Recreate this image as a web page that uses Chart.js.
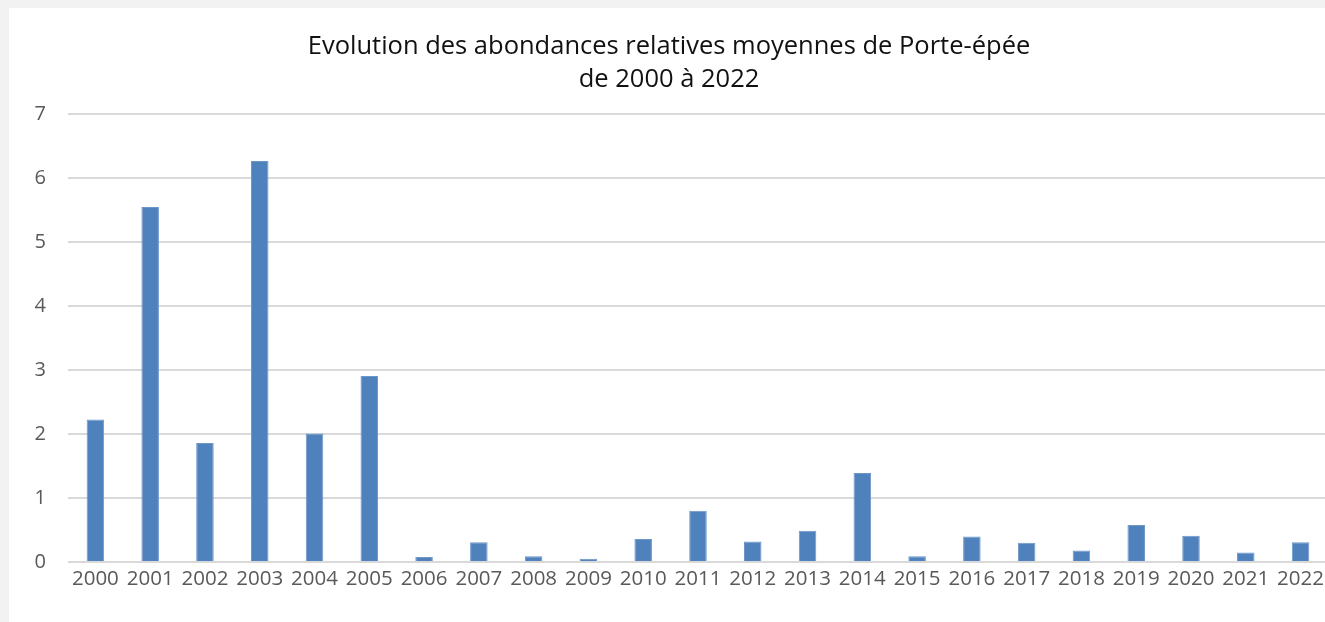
<!DOCTYPE html>
<html>
<head>
<meta charset="utf-8">
<script src="https://cdn.jsdelivr.net/npm/chart.js@4"></script>
<style>
  html, body { margin: 0; padding: 0; background: #f2f2f2; overflow: hidden; }
  #box { position: absolute; left: 9px; top: 8px; width: 1320px; height: 614px; background: #ffffff; }
</style>
</head>
<body>
<div id="box"><canvas id="chart"></canvas></div>
<script>
// Data
const years = ["2000", "2001", "2002", "2003", "2004", "2005", "2006", "2007", "2008", "2009", "2010",
  "2011", "2012", "2013", "2014", "2015", "2016", "2017", "2018", "2019", "2020", "2021", "2022"];
const abundance = [2.23, 5.55, 1.86, 6.27, 2.01, 2.91, 0.08, 0.31, 0.09, 0.05, 0.36,
  0.80, 0.32, 0.49, 1.39, 0.09, 0.40, 0.30, 0.18, 0.58, 0.41, 0.15, 0.31];
const yTicks = [0, 1, 2, 3, 4, 5, 6, 7];
const titleLines = ["Evolution des abondances relatives moyennes de Porte-épée", "de 2000 à 2022"];

const box = document.getElementById("box");
const canvas = document.getElementById("chart");
canvas.width = box.clientWidth;
canvas.height = box.clientHeight;

new Chart(canvas.getContext("2d"), {
  type: "bar",
  data: {
    labels: years,
    datasets: [
      {
        label: "Abondance",
        data: abundance,
        backgroundColor: "#4f81bd",
        borderColor: "#6d96c9",
        borderWidth: 1,
        categoryPercentage: 1,
        barPercentage: 0.32,
      },
    ],
  },
  options: {
    responsive: false,
    animation: false,
    layout: { padding: { left: 0, right: 0, top: 0, bottom: 0 } },
    plugins: {
      legend: { display: false },
      tooltip: { enabled: false },
      title: {
        display: true,
        text: titleLines,
        color: "#111111",
        font: { family: "'Open Sans'", size: 25.5, weight: "normal", lineHeight: 1.3 },
        padding: { top: 22, bottom: 18 },
      },
    },
    scales: {
      y: {
        min: 0,
        max: 7,
        afterBuildTicks: (scale) => {
          scale.ticks = yTicks.map((v) => ({ value: v }));
        },
        afterFit: (scale) => {
          scale.width = 59;
        },
        ticks: {
          color: "#595959",
          font: { family: "'Open Sans'", size: 20 },
          padding: 22,
        },
        grid: { color: "#d9d9d9", lineWidth: 2, drawTicks: false },
        border: { display: false },
      },
      x: {
        afterFit: (scale) => {
          scale.height = 60;
        },
        ticks: {
          color: "#595959",
          font: { family: "'Open Sans'", size: 20.5 },
          padding: 5,
          maxRotation: 0,
          autoSkip: false,
        },
        grid: { display: false, drawTicks: false },
        border: { display: false },
      },
    },
  },
});
</script>
</body>
</html>
